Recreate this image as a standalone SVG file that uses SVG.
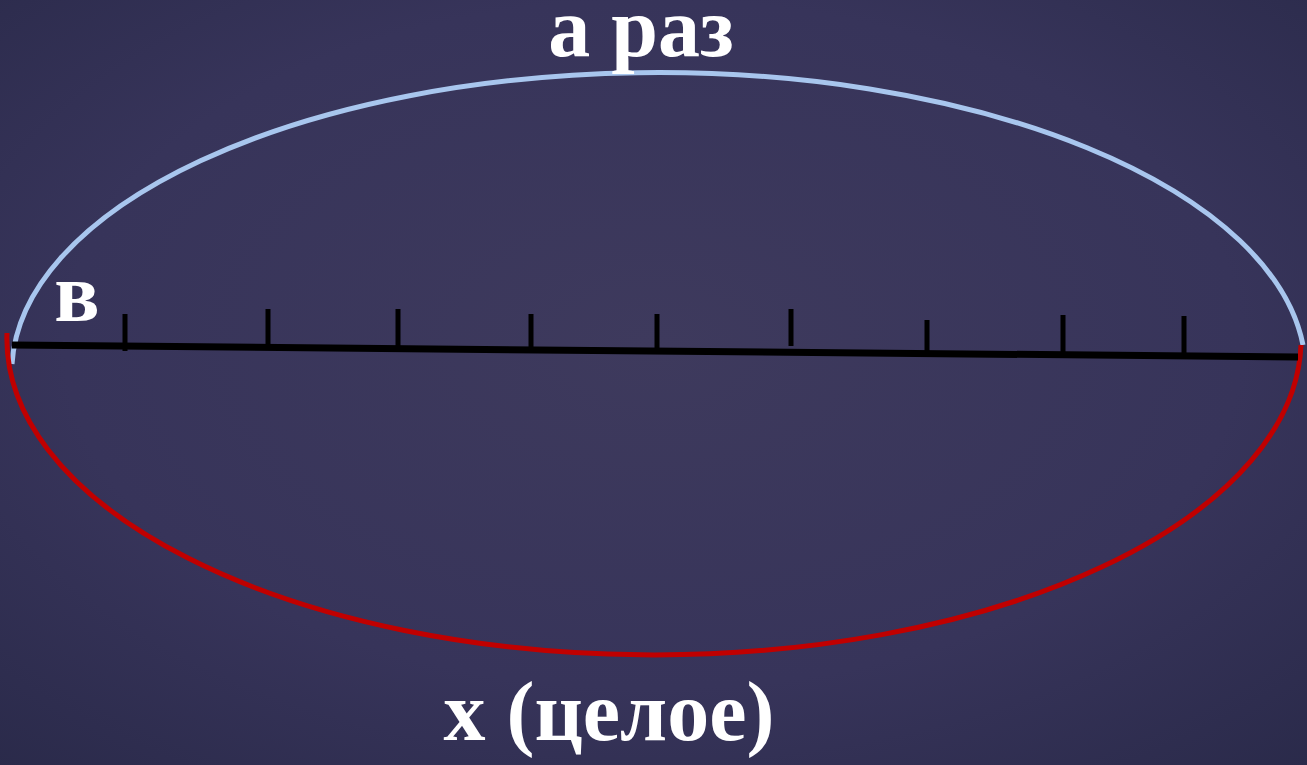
<svg xmlns="http://www.w3.org/2000/svg" width="1307" height="765" viewBox="0 0 1307 765">
<defs>
<radialGradient id="bg" cx="0.5" cy="0.45" r="0.75">
<stop offset="0" stop-color="#3e3a5d"/>
<stop offset="0.6" stop-color="#37345a"/>
<stop offset="1" stop-color="#2a2a4a"/>
</radialGradient>
</defs>
<style>
.t{font-family:"Liberation Serif","Times New Roman",serif;font-weight:bold;fill:#ffffff;font-size:84px}
.tick{stroke:#000;stroke-width:5;fill:none}
</style>
<rect width="1307" height="765" fill="url(#bg)"/>
<g id="arcs">
<path id="upper" d="M12,364 A647,300 0 0 1 1303,345" fill="none" stroke="#a8c6ee" stroke-width="5"/>
<path id="lower" d="M7,333 A647,316 0 0 0 1301,345" fill="none" stroke="#c00000" stroke-width="5"/>
</g>
<g id="axis">
<line x1="12" y1="345" x2="1298" y2="357" stroke="#000" stroke-width="7"/>
<line class="tick" x1="125" y1="314" x2="125" y2="351"/>
<line class="tick" x1="268" y1="309" x2="268" y2="348"/>
<line class="tick" x1="398" y1="309" x2="398" y2="349"/>
<line class="tick" x1="531" y1="314" x2="531" y2="350"/>
<line class="tick" x1="657" y1="314" x2="657" y2="351"/>
<line class="tick" x1="791" y1="309" x2="791" y2="346"/>
<line class="tick" x1="927" y1="320" x2="927" y2="353"/>
<line class="tick" x1="1063" y1="315" x2="1063" y2="354"/>
<line class="tick" x1="1184" y1="316" x2="1184" y2="355"/>
</g>
<g id="labels">
<text class="t" x="641" y="56" text-anchor="middle">а раз</text>
<text class="t" x="77" y="321" text-anchor="middle">в</text>
<text class="t" x="609" y="740" text-anchor="middle">x (целое)</text>
</g>
</svg>
